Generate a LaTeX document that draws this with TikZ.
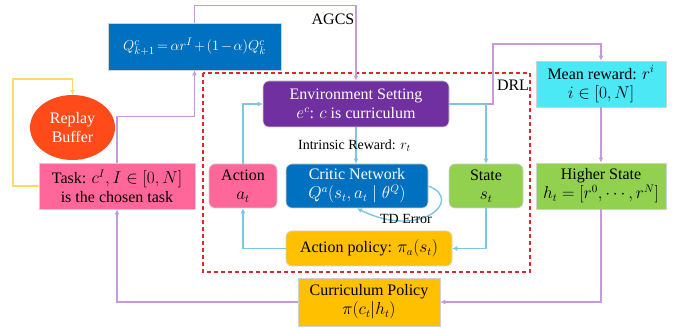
\documentclass[tikz,border=0pt]{standalone}
\usepackage{fontspec}
\setmainfont{Liberation Serif}
\usetikzlibrary{arrows.meta,shapes.geometric}
\definecolor{qblue}{HTML}{0070C0}
\definecolor{envpurple}{HTML}{7030A0}
\definecolor{pinkbox}{HTML}{FF6699}
\definecolor{replayred}{HTML}{FF4B1A}
\definecolor{goldbox}{HTML}{FFC000}
\definecolor{greenbox}{HTML}{92D050}
\definecolor{cyanbox}{HTML}{4BE9F6}
\definecolor{lpurple}{HTML}{C49BD8}
\definecolor{lblue}{HTML}{7CC6E4}
\definecolor{lyellow}{HTML}{FFD966}
\definecolor{dred}{HTML}{D92B2B}
\begin{document}
\begin{tikzpicture}[x=1pt,y=-1pt,
  box/.style={draw=black!18, line width=0.6pt, inner sep=0pt, align=center, font=\fontsize{16}{19}\selectfont},
  rbox/.style={box, rounded corners=6pt},
  tip/.style={-{Latex[length=5pt,width=5pt]}},
  parr/.style={draw=lpurple, line width=1.4pt, tip},
  barr/.style={draw=lblue, line width=1.4pt, tip},
  yarr/.style={draw=lyellow, line width=1.4pt, tip},
  lbl/.style={font=\fontsize{16}{19}\selectfont, inner sep=0pt},
  slbl/.style={font=\fontsize{14}{16}\selectfont, inner sep=0pt}]
\useasboundingbox (0,0) rectangle (673,328);

% DRL dashed frame
\draw[dred, line width=1.4pt, dash pattern=on 4pt off 3pt] (203,73) rectangle (530,272);
\node[lbl] (drl) at (513,85) {DRL};
\node[lbl] (agcs) at (333,19) {AGCS};

% boxes
\node[box, fill=qblue, text=white, minimum width=173pt, minimum height=47pt, font=\fontsize{15}{18}\selectfont] (Q) at (194.5,46.5)
  {\medmuskip=2mu\thickmuskip=3mu$Q^c_{k+1}=\alpha r^I+(1-\alpha)Q^c_k$};
\node[ellipse, fill=replayred, text=white, inner sep=0pt, minimum width=85pt, minimum height=65pt, align=center, font=\fontsize{16}{19}\selectfont] (replay) at (72.5,127.5) {Replay\\Buffer};
\node[box, fill=pinkbox, minimum width=156pt, minimum height=46pt] (task) at (117,186)
  {Task: $c^I, I\in[0,N]$\\is the chosen task};
\node[box, fill=goldbox, minimum width=142pt, minimum height=48pt] (cur) at (369,302)
  {Curriculum Policy\\$\pi(c_t|h_t)$};
\node[box, fill=greenbox, minimum width=130pt, minimum height=46pt] (higher) at (601,186)
  {Higher State\\$h_t=[r^0,\cdots,r^N]$};
\node[box, fill=cyanbox, minimum width=130pt, minimum height=46pt] (mean) at (601,84)
  {Mean reward: $r^i$\\$i\in[0,N]$};
\node[rbox, fill=envpurple, text=white, minimum width=186pt, minimum height=46pt] (env) at (356,104)
  {Environment Setting\\$e^c$: $c$ is curriculum};
\node[rbox, fill=qblue, text=white, minimum width=142pt, minimum height=44pt] (critic) at (357,186)
  {Critic Network\\$Q^a(s_t,a_t\mid\theta^Q)$};
\node[rbox, fill=greenbox, minimum width=74pt, minimum height=44pt] (state) at (486,186)
  {State\\$s_t$};
\node[rbox, fill=pinkbox, minimum width=68pt, minimum height=44pt] (action) at (243,186)
  {Action\\$a_t$};
\node[rbox, fill=goldbox, minimum width=166pt, minimum height=35pt] (actpol) at (369,248.5)
  {Action policy: $\pi_a(s_t)$};

% coordinates
\coordinate (ytop) at (13,79);
\coordinate (p1) at (493,44);

% purple connectors
\draw[parr] (task.north) -- ++(0,-46) -| (Q.south);
\draw[parr] (Q.north) -- ++(0,-17) -| (env.north);
\draw[parr] (env.east) -| (p1) -| (mean.north);
\draw[parr] (mean.south) -- (higher.north);
\draw[parr] (higher.south) |- (cur.east);
\draw[parr] (cur.west) -| (task.south);

% yellow connector
\draw[yarr] (task.west) -| (ytop) -| (replay.north);

% blue connectors
\draw[barr] (env.south) -- (env.south |- critic.north);
\draw[barr] (env.east) -| (state.north);
\draw[barr] (action.north) |- (env.west);
\draw[barr] (actpol.west) -| (action.south);
\draw[barr] (state.south) |- (actpol.east);
\draw[barr] (critic.east) .. controls (465,200) and (420,240) .. (critic.south);

% labels
\node[slbl] (intr) at (354.5,146) {Intrinsic Reward: $r_t$};
\node[slbl] (td) at (406,219) {TD Error};
\end{tikzpicture}
\end{document}
